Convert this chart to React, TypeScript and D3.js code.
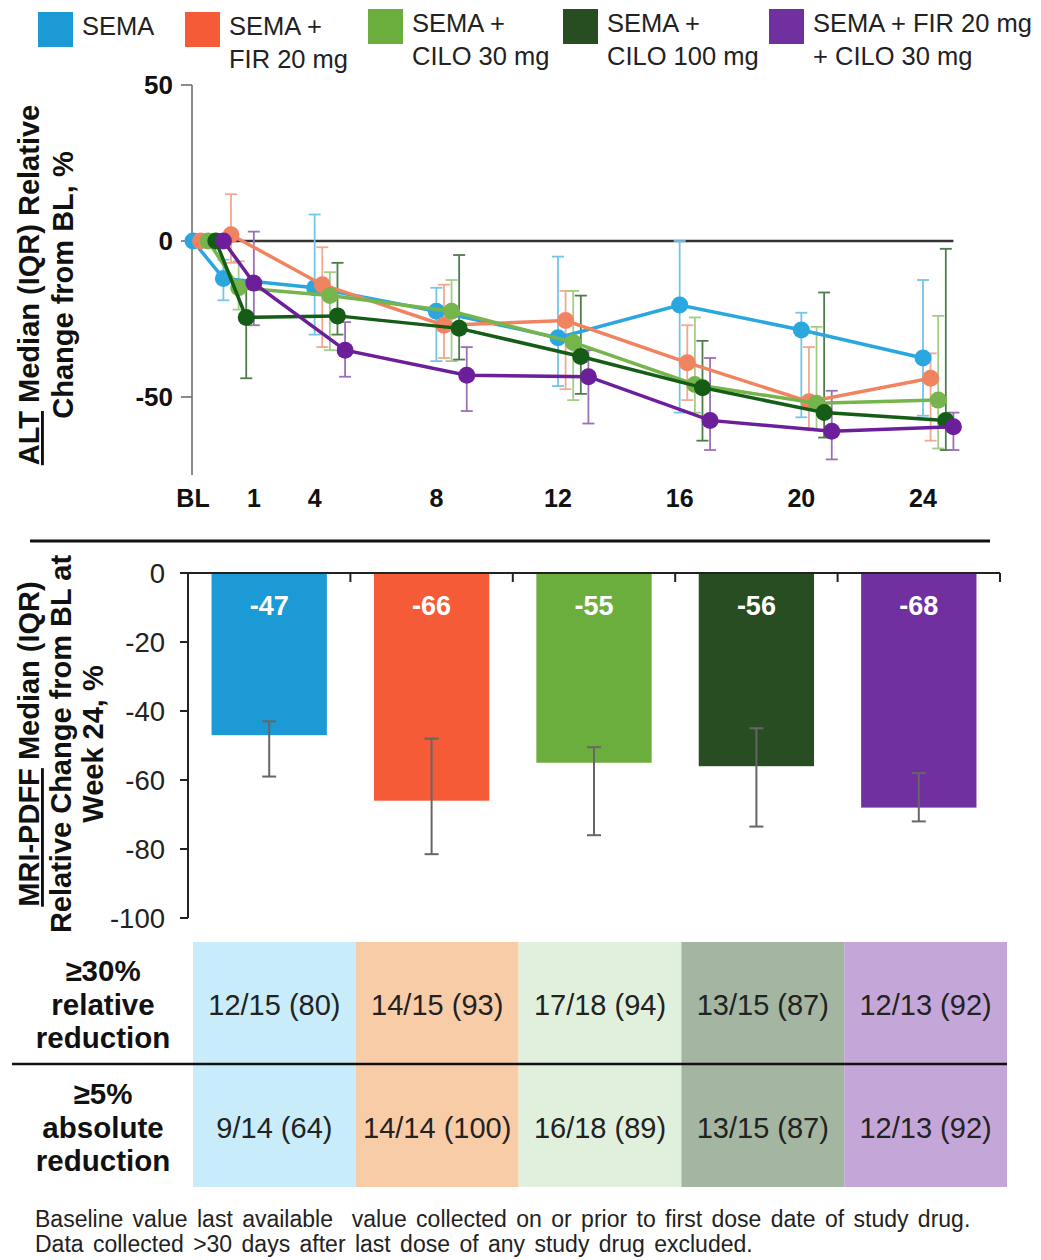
import React from 'react';
import * as d3 from 'd3';

// groups and legend text
const groups = ['SEMA', 'SEMA + FIR 20 mg', 'SEMA + CILO 30 mg', 'SEMA + CILO 100 mg', 'SEMA + FIR 20 mg + CILO 30 mg'];
const legendLines = [['SEMA'], ['SEMA +', 'FIR 20 mg'], ['SEMA +', 'CILO 30 mg'], ['SEMA +', 'CILO 100 mg'], ['SEMA + FIR 20 mg', '+ CILO 30 mg']];

// ALT panel
const weeks = [0, 1, 4, 8, 12, 16, 20, 24];
const weekTickPos = [0, 2, 4, 8, 12, 16, 20, 24];
const weekTickLabels = ['BL', '1', '4', '8', '12', '16', '20', '24'];
const altTicks = [50, 0, -50];

const altMedian = [
  [0, -12, -15, -22.5, -31, -20.5, -28.5, -37.5],
  [0, 2, -14, -27, -25.5, -39, -51.5, -44],
  [0, -15, -17.5, -22.5, -32.5, -46, -52, -51],
  [0, -24.5, -24, -28, -37, -47, -55, -57.5],
  [0, -13.5, -35, -43, -43.5, -57.5, -61, -59.5],
];
const altUpper = [
  [0, -6, 8.5, -15, -5, 0, -23, -12.5],
  [0, 15, -2, -14, -16, -27, -34, -36],
  [0, -6.5, -10, -12.5, -16, -24.5, -27.5, -24],
  [0, -13, -7, -4.5, -17.5, -32, -16.5, -2.5],
  [0, 3, -26, -34, -35, -37.5, -48, -55],
];
const altLower = [
  [0, -19, -30, -38.5, -46.5, -55, -56.5, -56],
  [0, -7, -34, -37.5, -47.5, -51, -60, -64],
  [0, -22, -35, -38.5, -51, -55, -60.5, -66.5],
  [0, -44, -30, -38, -49, -64, -63, -67],
  [0, -27, -43.5, -54.5, -58.5, -67, -70, -67],
];

// MRI-PDFF panel
const pdffMedian = [-47, -66, -55, -56, -68];
const pdffUpper = [-43, -48, -50.5, -45, -58];
const pdffLower = [-59, -81.5, -76, -73.5, -72];
const pdffTicks = [0, -20, -40, -60, -80, -100];

// responder table
const rowLabels = [['≥30%', 'relative', 'reduction'], ['≥5%', 'absolute', 'reduction']];
const rel30 = ['12/15 (80)', '14/15 (93)', '17/18 (94)', '13/15 (87)', '12/13 (92)'];
const abs5 = ['9/14 (64)', '14/14 (100)', '16/18 (89)', '13/15 (87)', '12/13 (92)'];

const footnotes = [
  'Baseline value last available  value collected on or prior to first dose date of study drug.',
  'Data collected >30 days after last dose of any study drug excluded.',
];

const solidColors = ['#1B9AD6', '#F55B36', '#6CAE3E', '#284D22', '#7030A0'];
const lineColors = ['#2BA7DF', '#F08461', '#76B54B', '#155C16', '#6C1E9B'];
const errColors = ['#74C5EA', '#F4A88E', '#A3CD86', '#4F7B4D', '#9C70B9'];
const tableColors = ['#C8ECF9', '#F9CCA8', '#E1F0DC', '#A4B5A1', '#C4A7D8'];
const dodge = [0, 0.25, 0.5, 0.75, 1.0];

const FONT = '"Liberation Sans", Arial, Helvetica, sans-serif';

export default function App() {
  const W = 1041, H = 1260;

  // ALT scales
  const x = d3.scaleLinear().domain([0, 24]).range([193, 923]);
  const y = d3.scaleLinear().domain([-75, 50]).range([475, 85]);

  // PDFF scales
  const xb = d3.scaleBand<number>().domain(d3.range(groups.length)).range([188, 1000]).paddingInner(0.29).paddingOuter(0.145);
  const yb = d3.scaleLinear().domain([-100, 0]).range([918, 573]);
  const xt = d3.scaleBand<number>().domain(d3.range(groups.length)).range([193, 1007]);

  const legendX = [38, 185, 368, 563, 769];
  const legendY = [12, 12, 9, 9, 9];

  return (
    <svg width={W} height={H} style={{ position: 'absolute', left: 0, top: 0, background: '#fff' }} fontFamily={FONT}>
      <rect width={W} height={H} fill="#fff" />

      {/* legend */}
      {groups.map((g, i) => (
        <g key={g}>
          <rect x={legendX[i]} y={legendY[i]} width={35} height={35} fill={solidColors[i]} />
          {legendLines[i].map((t, j) => (
            <text key={j} x={legendX[i] + 44} y={legendY[i] + 23 + j * 33} fontSize={25.5} fill="#222">{t}</text>
          ))}
        </g>
      ))}

      {/* ALT panel axes */}
      <line x1={192} x2={192} y1={y(50)} y2={y(-75)} stroke="#666" strokeWidth={1.5} />
      {altTicks.map(t => (
        <g key={t}>
          <line x1={181} x2={192} y1={y(t)} y2={y(t)} stroke="#666" strokeWidth={1.5} />
          <text x={173} y={y(t)} dy="0.36em" textAnchor="end" fontSize={26} fontWeight="bold" fill="#111">{t}</text>
        </g>
      ))}
      <line x1={192} x2={x(25)} y1={y(0)} y2={y(0)} stroke="#333" strokeWidth={2.5} />
      {weekTickLabels.map((l, i) => (
        <text key={l} x={x(weekTickPos[i])} y={507} textAnchor="middle" fontSize={25} fontWeight="bold" fill="#111">{l}</text>
      ))}
      <text transform="translate(39,285) rotate(-90)" textAnchor="middle" fontSize={29} fontWeight="bold" fill="#111">
        <tspan style={{ textDecoration: 'underline' }}>ALT</tspan> Median (IQR) Relative
      </text>
      <text transform="translate(73,285) rotate(-90)" textAnchor="middle" fontSize={29} fontWeight="bold" fill="#111">Change from BL, %</text>

      {/* ALT error bars */}
      {groups.map((g, s) => (
        <g key={'e' + g} stroke={errColors[s]} strokeWidth={1.8} fill="none">
          {weeks.map((w, i) => {
            if (altUpper[s][i] === altLower[s][i]) return null;
            const cx = x(w + dodge[s]);
            return (
              <g key={i}>
                <line x1={cx} x2={cx} y1={y(altUpper[s][i])} y2={y(altLower[s][i])} />
                <line x1={cx - 6} x2={cx + 6} y1={y(altUpper[s][i])} y2={y(altUpper[s][i])} />
                <line x1={cx - 6} x2={cx + 6} y1={y(altLower[s][i])} y2={y(altLower[s][i])} />
              </g>
            );
          })}
        </g>
      ))}

      {/* ALT lines + markers */}
      {groups.map((g, s) => {
        const gen = d3.line<number>().x((_, i) => x(weeks[i] + dodge[s])).y(d => y(d));
        return (
          <g key={'l' + g}>
            <path d={gen(altMedian[s]) || ''} fill="none" stroke={lineColors[s]} strokeWidth={3.5} />
            {altMedian[s].map((v, i) => (
              <circle key={i} cx={x(weeks[i] + dodge[s])} cy={y(v)} r={8.5} fill={lineColors[s]} />
            ))}
          </g>
        );
      })}

      {/* separator */}
      <line x1={30} x2={990} y1={541} y2={541} stroke="#111" strokeWidth={3} />

      {/* PDFF panel */}
      {groups.map((g, i) => (
        <g key={'b' + g}>
          <rect x={xb(i)} y={yb(0)} width={xb.bandwidth()} height={yb(pdffMedian[i]) - yb(0)} fill={solidColors[i]} />
          <text x={xb(i)! + xb.bandwidth() / 2} y={yb(0) + 42} textAnchor="middle" fontSize={27} fontWeight="bold" fill="#fff">{pdffMedian[i]}</text>
        </g>
      ))}
      {groups.map((g, i) => {
        const cx = xb(i)! + xb.bandwidth() / 2;
        return (
          <g key={'be' + g} stroke="#666" strokeWidth={2}>
            <line x1={cx} x2={cx} y1={yb(pdffUpper[i])} y2={yb(pdffLower[i])} />
            <line x1={cx - 7} x2={cx + 7} y1={yb(pdffUpper[i])} y2={yb(pdffUpper[i])} />
            <line x1={cx - 7} x2={cx + 7} y1={yb(pdffLower[i])} y2={yb(pdffLower[i])} />
          </g>
        );
      })}
      <line x1={188} x2={188} y1={yb(0)} y2={yb(-100)} stroke="#222" strokeWidth={2} />
      <line x1={188} x2={1000} y1={yb(0)} y2={yb(0)} stroke="#222" strokeWidth={2} />
      {groups.map((g, i) => {
        const bx = 188 + (1000 - 188) * (i + 1) / groups.length;
        return <line key={'bt' + g} x1={bx} x2={bx} y1={yb(0)} y2={yb(0) + 9} stroke="#222" strokeWidth={2} />;
      })}
      {pdffTicks.map(t => (
        <g key={t}>
          <line x1={180} x2={188} y1={yb(t)} y2={yb(t)} stroke="#222" strokeWidth={2} />
          <text x={165} y={yb(t)} dy="0.36em" textAnchor="end" fontSize={27.5} fill="#222">{t}</text>
        </g>
      ))}
      <text transform="translate(39,744) rotate(-90)" textAnchor="middle" fontSize={29} fontWeight="bold" fill="#111">
        <tspan style={{ textDecoration: 'underline' }}>MRI-PDFF</tspan> Median (IQR)
      </text>
      <text transform="translate(71,744) rotate(-90)" textAnchor="middle" fontSize={29} fontWeight="bold" fill="#111">Relative Change from BL at</text>
      <text transform="translate(103,744) rotate(-90)" textAnchor="middle" fontSize={29} fontWeight="bold" fill="#111">Week 24, %</text>

      {/* table */}
      {groups.map((g, i) => (
        <rect key={'t' + g} x={xt(i)} y={942} width={xt.bandwidth()} height={245} fill={tableColors[i]} />
      ))}
      <line x1={12} x2={1007} y1={1064} y2={1064} stroke="#111" strokeWidth={2.5} />
      {rowLabels.map((lines, r) => lines.map((t, j) => (
        <text key={r + '-' + j} x={103} y={981 + r * 123 + j * 33.5} textAnchor="middle" fontSize={29.5} fontWeight="bold" fill="#111">{t}</text>
      )))}
      {[rel30, abs5].map((row, r) => row.map((t, i) => (
        <text key={r + '-' + i} x={xt(i)! + xt.bandwidth() / 2} y={1015 + r * 123} textAnchor="middle" fontSize={29} fill="#222">{t}</text>
      )))}

      {/* footnotes */}
      {footnotes.map((f, i) => (
        <text key={i} x={35} y={1227 + i * 25} fontSize={23} fill="#222" wordSpacing={3} style={{ whiteSpace: 'pre' }}>{f}</text>
      ))}
    </svg>
  );
}
